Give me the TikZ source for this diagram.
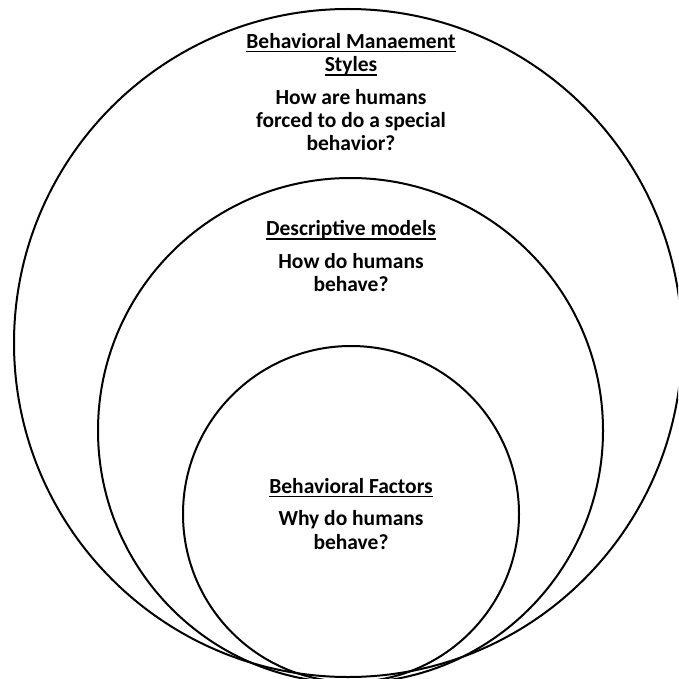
\documentclass[tikz,border=0pt]{standalone}
\usepackage{fontspec}
\setmainfont{Carlito}
\newcommand{\myul}[1]{\setbox0\hbox{#1}\rlap{\rule[-4pt]{\wd0}{1.6pt}}\box0}
\begin{document}
\begin{tikzpicture}[x=1pt,y=-1pt,
  ring/.style={draw=black, line width=2pt, circle, inner sep=0pt},
  lbl/.style={font=\bfseries\fontsize{21.5}{23.3}\selectfont, align=center, inner sep=0pt, anchor=base}]
\useasboundingbox (0,0) rectangle (678,679);
\begin{scope}
\clip (0,0) rectangle (678,679);
\node[ring, minimum size=668pt] (outer) at (348,343) {};
\node[ring, minimum size=505pt] (middle) at (350.5,430.5) {};
\node[ring, minimum size=336pt] (inner) at (351,514) {};
\end{scope}
\node[lbl] (t1) at (351,71.8) {\myul{Behavioral Manaement}\\\myul{Styles}};
\node[lbl] (b1) at (351,150.9) {How are humans\\forced to do a special\\behavior?};
\node[lbl] (t2) at (351,235.6) {\myul{Descriptive models}};
\node[lbl] (b2) at (351,291.8) {How do humans\\behave?};
\node[lbl] (t3) at (351,493.3) {\myul{Behavioral Factors}};
\node[lbl] (b3) at (351,549) {Why do humans\\behave?};
\end{tikzpicture}
\end{document}
